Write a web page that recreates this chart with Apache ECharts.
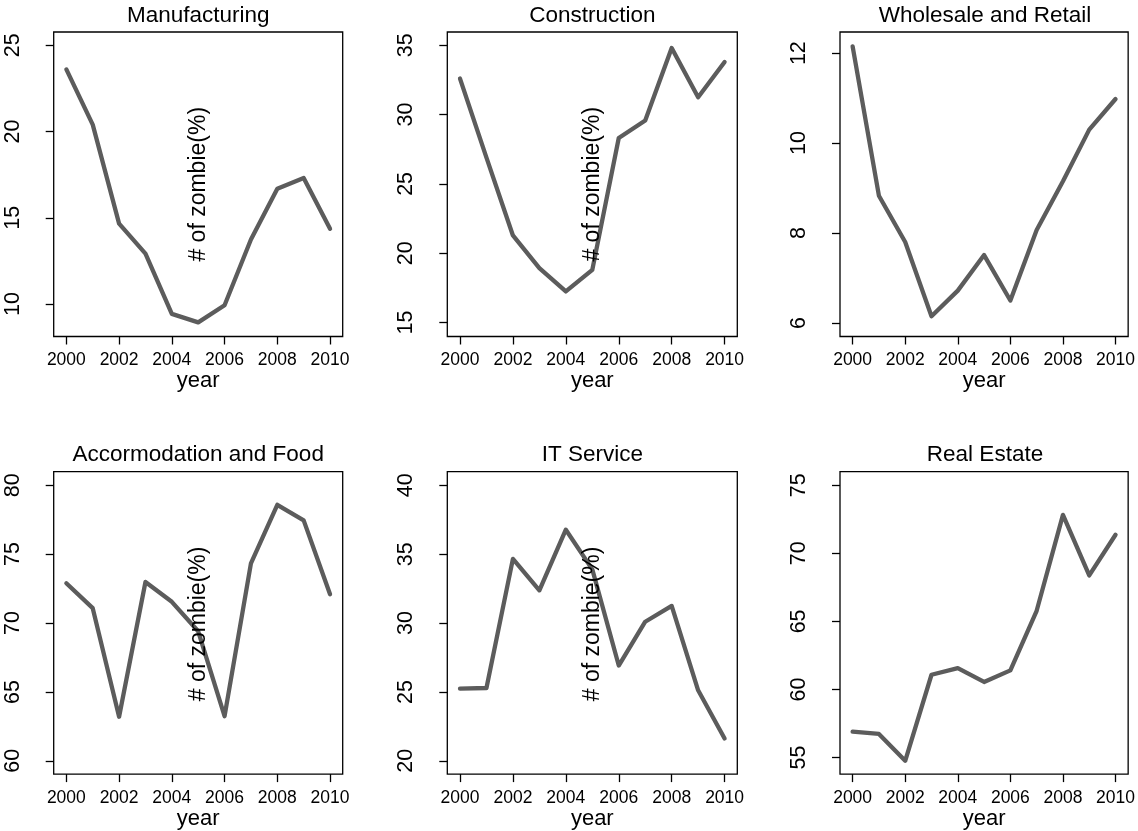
<!DOCTYPE html>
<html>
<head>
<meta charset="utf-8">
<title>zombie share by industry</title>
<script src="https://cdn.jsdelivr.net/npm/echarts@6/dist/echarts.min.js"></script>
<style>
  html, body { margin: 0; padding: 0; background: #fff; }
  #chart { width: 1138px; height: 831px; }
</style>
</head>
<body>
<div id="chart"></div>
<script>
// values, one array per industry
const years = [2000, 2001, 2002, 2003, 2004, 2005, 2006, 2007, 2008, 2009, 2010]
const manufacturing = [23.6, 20.4, 14.66, 12.92, 9.43, 8.94, 9.93, 13.74, 16.69, 17.31, 14.36]
const construction = [32.6, 26.9, 21.28, 18.93, 17.24, 18.8, 28.31, 29.58, 34.81, 31.25, 33.8]
const wholesaleRetail = [12.15, 8.83, 7.8, 6.15, 6.72, 7.51, 6.5, 8.07, 9.15, 10.3, 10.98]
const accommodationFood = [72.89, 71.08, 63.2, 72.98, 71.54, 69.4, 63.24, 74.33, 78.58, 77.45, 72.09]
const itService = [25.24, 25.29, 34.66, 32.38, 36.78, 33.9, 26.92, 30.1, 31.25, 25.12, 21.63]
const realEstate = [56.9, 56.73, 54.76, 61.08, 61.57, 60.55, 61.4, 65.78, 72.83, 68.38, 71.37]

const titles = ['Manufacturing', 'Construction', 'Wholesale and Retail',
  'Accormodation and Food', 'IT Service', 'Real Estate']
const seriesValues = [manufacturing, construction, wholesaleRetail,
  accommodationFood, itService, realEstate]
const xTicks = [2000, 2002, 2004, 2006, 2008, 2010]
const yTicks = [
  [10, 15, 20, 25],
  [15, 20, 25, 30, 35],
  [6, 8, 10, 12],
  [60, 65, 70, 75, 80],
  [20, 25, 30, 35, 40],
  [55, 60, 65, 70, 75]
]
const yRange = [[8.12, 25.77], [13.99, 35.96], [5.70, 12.47],
  [59.04, 80.98], [19.04, 40.99], [53.78, 76.0]]
const yLabelPanels = [0, 1, 3, 4] // panels that carry the stray "# of zombie(%)" text

const FONT = '"Liberation Sans", Arial, sans-serif'
const colLeft = [53.7, 447.3, 840]
const colWidth = [289, 290, 290]
const rowTop = [32, 471.7]
const boxHeight = 304.5

const chart = echarts.init(document.getElementById('chart'), null, { renderer: 'canvas' })

const grid = []
const xAxis = []
const yAxis = []
const series = []
const title = []
const graphic = []

titles.forEach((name, i) => {
  const row = Math.floor(i / 3)
  const col = i % 3
  const left = colLeft[col]
  const top = rowTop[row]
  const width = colWidth[col]
  grid.push({
    left: left, top: top, width: width, height: boxHeight,
    show: true, borderColor: '#000', borderWidth: 1.3, backgroundColor: 'transparent'
  })
  xAxis.push({
    type: 'value', gridIndex: i, min: 1999.52, max: 2010.48,
    axisLine: { show: false, onZero: false },
    splitLine: { show: false },
    axisTick: { show: true, length: 8, customValues: xTicks, lineStyle: { color: '#000', width: 1.3 } },
    axisLabel: { customValues: xTicks, fontSize: 17.5, fontFamily: FONT, color: '#000', margin: 15,
      formatter: v => String(v) },
    name: 'year', nameLocation: 'middle', nameGap: 31.5,
    nameTextStyle: { fontSize: 22, fontFamily: FONT, color: '#000' }
  })
  yAxis.push({
    type: 'value', gridIndex: i, min: yRange[i][0], max: yRange[i][1],
    axisLine: { show: false, onZero: false },
    splitLine: { show: false },
    axisTick: { show: true, length: 8, customValues: yTicks[i], lineStyle: { color: '#000', width: 1.3 } },
    axisLabel: { customValues: yTicks[i], rotate: 90, fontSize: 21.5, fontFamily: FONT, color: '#000',
      margin: 30, formatter: v => String(v) }
  })
  series.push({
    type: 'line', xAxisIndex: i, yAxisIndex: i,
    data: years.map((y, j) => [y, seriesValues[i][j]]),
    showSymbol: false, silent: true,
    lineStyle: { color: '#5c5c5c', width: 4.3, join: 'round', cap: 'round' }
  })
  // title baseline sits ~19px below the top of the text box
  title.push({
    text: name, left: left + width / 2, top: (row === 0 ? 23.3 : 462.7) - 19,
    textAlign: 'center', padding: 0,
    textStyle: { fontSize: 22.5, fontWeight: 'normal', fontFamily: FONT, color: '#000' }
  })
  if (yLabelPanels.includes(i)) {
    graphic.push({
      type: 'text', x: left + width / 2, y: top + boxHeight / 2, rotation: Math.PI / 2,
      style: { text: '# of zombie(%)', textAlign: 'center', textVerticalAlign: 'middle',
        font: '23px ' + FONT, fill: '#000' },
      z: 100
    })
  }
})

chart.setOption({
  animation: false,
  backgroundColor: '#fff',
  title: title,
  grid: grid,
  xAxis: xAxis,
  yAxis: yAxis,
  series: series,
  graphic: graphic
})
</script>
</body>
</html>
